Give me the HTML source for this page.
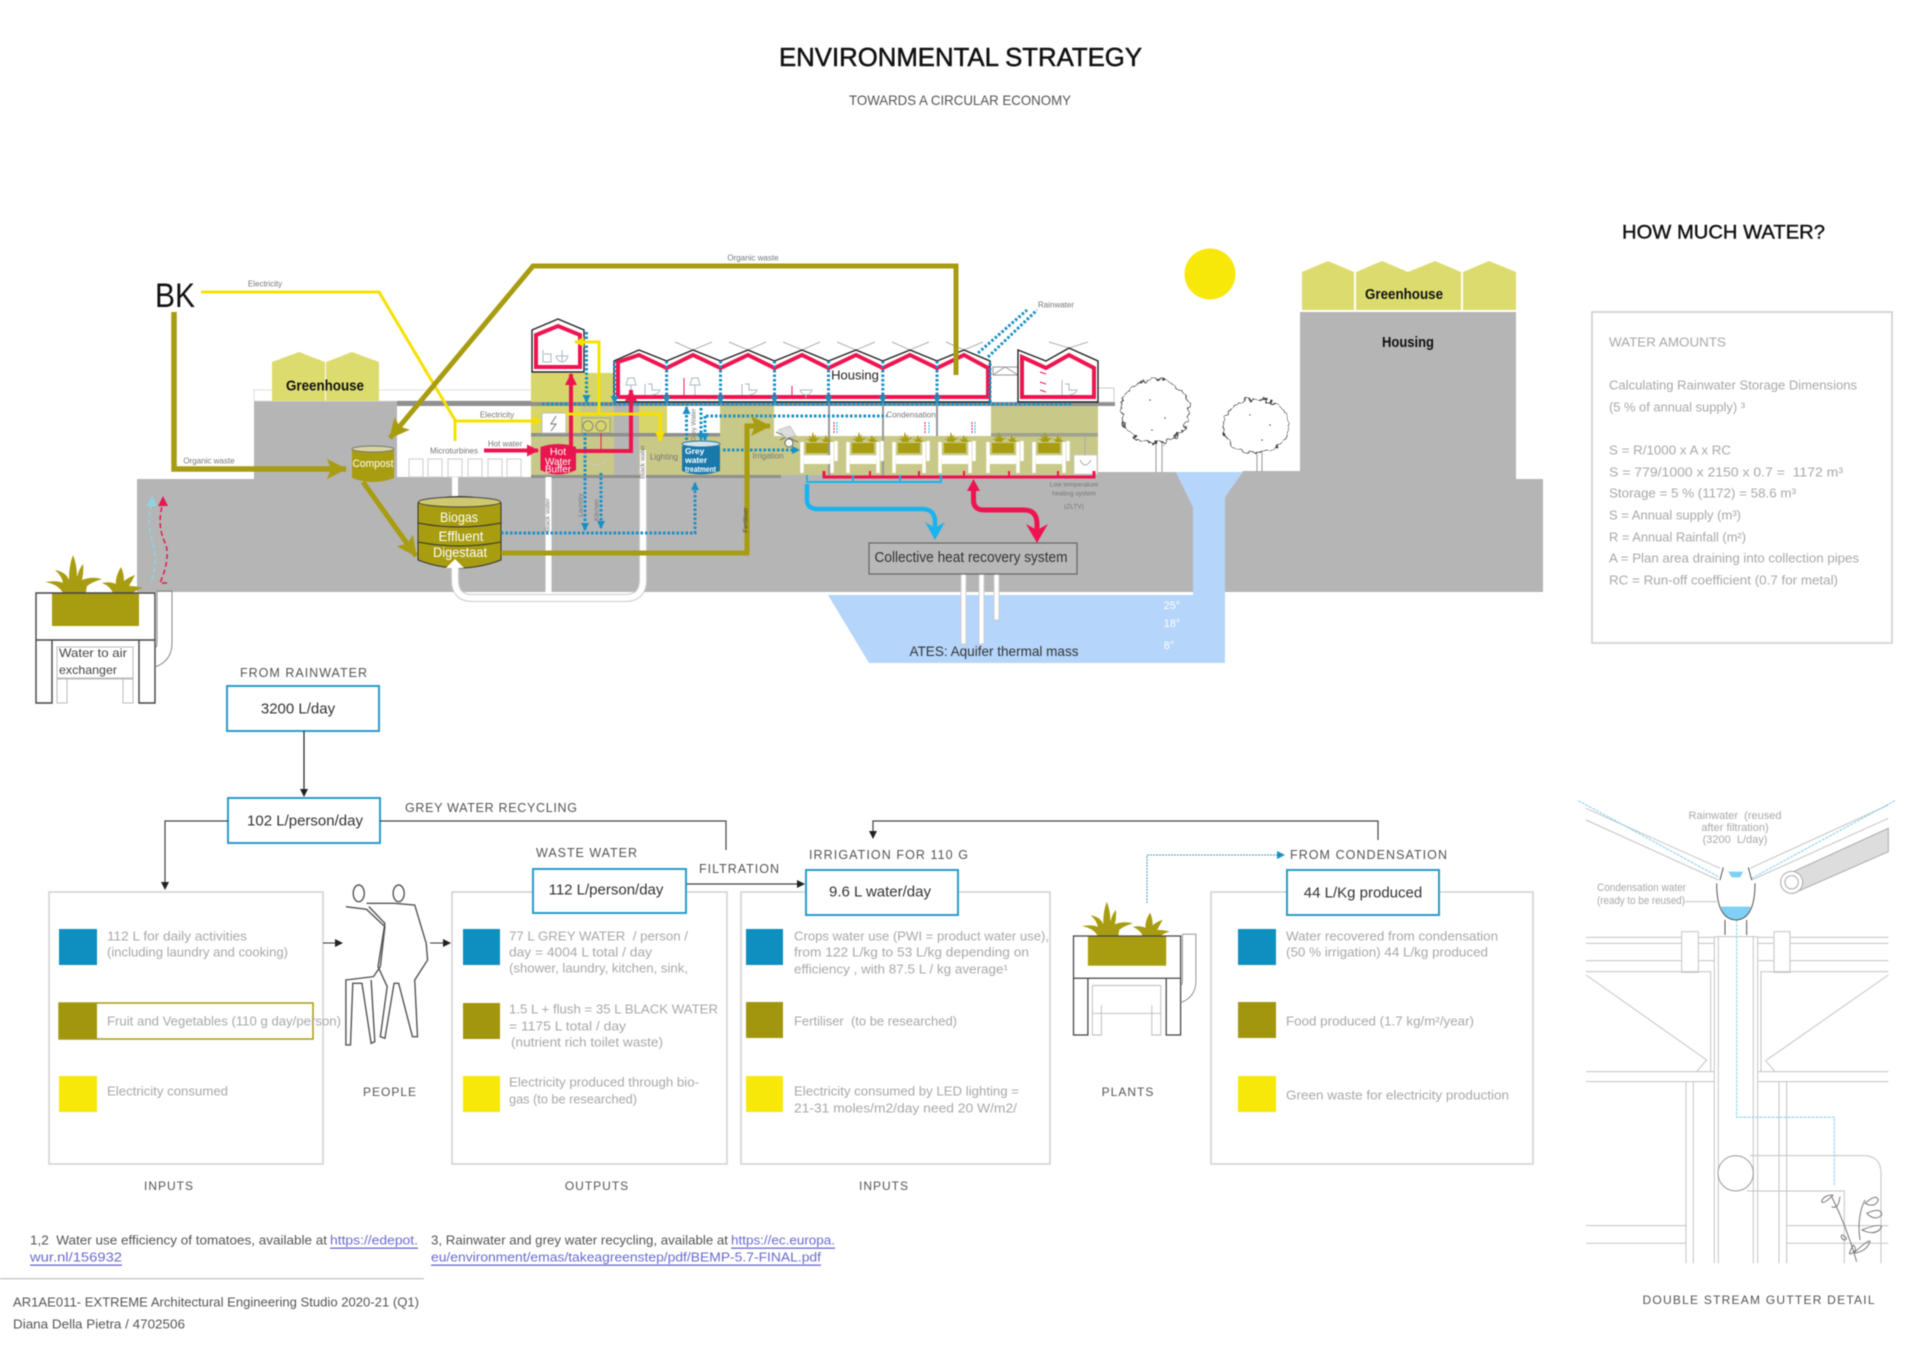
<!DOCTYPE html>
<html><head><meta charset="utf-8"><title>Environmental Strategy</title>
<style>
html,body{margin:0;padding:0;background:#fff}
svg{display:block;filter:blur(.5px)}
text{font-family:"Liberation Sans",sans-serif;dominant-baseline:central;white-space:pre}
.g{font-size:13px;fill:#a8a8a8}
.l{font-size:12.5px;fill:#555;letter-spacing:1px}
.v{font-size:15px;fill:#333}
.s{font-size:8px;fill:#777}
.w{fill:#fff;text-anchor:middle}
.f{font-size:13px;fill:#555}
.u{font-size:13px;fill:#6a6ad0;text-decoration:underline}
.d{fill:none;stroke:#1a8fc4;stroke-width:3;stroke-dasharray:2.5 2}
.thin{fill:none;stroke:#c4c4c4;stroke-width:1}
.ns{vector-effect:non-scaling-stroke}
</style></head><body>
<svg width="1920" height="1358" viewBox="0 0 1920 1358" xmlns="http://www.w3.org/2000/svg">
<defs>
<filter id="rough" x="-20%" y="-20%" width="140%" height="140%"><feTurbulence type="fractalNoise" baseFrequency=".16" numOctaves="2" seed="4" result="n"/><feDisplacementMap in="SourceGraphic" in2="n" scale="9" xChannelSelector="R" yChannelSelector="G"/></filter>
<marker id="ab" markerUnits="userSpaceOnUse" markerWidth="10" markerHeight="10" refX="7" refY="4" orient="auto"><path d="M0 0L8 4L0 8Z" fill="#1a8fc4"/></marker>
<marker id="ak" markerUnits="userSpaceOnUse" markerWidth="10" markerHeight="10" refX="7" refY="4" orient="auto"><path d="M0 0L8 4L0 8Z" fill="#222"/></marker>
<marker id="ay" markerUnits="userSpaceOnUse" markerWidth="12" markerHeight="12" refX="9" refY="5" orient="auto"><path d="M0 0L10 5L0 10Z" fill="#f7e000"/></marker>
<marker id="ar" markerUnits="userSpaceOnUse" markerWidth="14" markerHeight="14" refX="11" refY="6" orient="auto"><path d="M0 0L12 6L0 12Z" fill="#ef1450"/></marker>
<marker id="ao" markerUnits="userSpaceOnUse" markerWidth="24" markerHeight="24" refX="19" refY="10" orient="auto"><path d="M0 0L20 10L0 20L4 10Z" fill="#a89c10"/></marker>
<g id="leaf"><path fill="#a89c10" d="M27 0Q22-9 9-11Q22-13 27-10Q26-17 19-23Q30-21 33-13Q33-28 37-38Q41-28 41-16Q43-24 47-29Q48-22 46-13Q56-17 66-14Q56-11 51-7Q50-3 50 0ZM77 0Q74-7 66-10Q74-12 80-9Q79-16 85-26Q88-20 88-12Q93-16 99-18Q96-12 93-7Q100-7 107-5Q100-3 97 0Z"/></g>
<g id="pl">
<use href="#leaf"/>
<rect x="16" y="0" width="87" height="33" fill="#a89c10"/>
<path fill="none" stroke="#444" stroke-width="1.4" d="M0 0H119V47H0ZM0 47V110H16V47M103 47V110H119V47"/>
<path fill="none" stroke="#bbb" d="M21 55V110H31V77M87 77V110H97V55M21 55H97M21 86H97"/>
<path fill="none" stroke="#888" d="M121-2H136V50Q136 68 119 74M121-2V48Q121 55 119 55"/>
</g>
<g id="sm">
<g transform="translate(2,-1) scale(.27)"><use href="#leaf"/></g>
<rect x="5" y="0" width="22" height="10" fill="#a89c10"/>
<path fill="none" stroke="#fff" stroke-width="3.5" d="M1-1V30M31-1V30M1 14H31M35-2V18"/>
<path fill="#fff" d="M3 15H29V21H3Z"/>
</g>
</defs>
<rect width="1920" height="1358" fill="#fff"/>

<!-- Titles -->
<text x="779" y="57" font-size="26" fill="#111" stroke="#111" stroke-width=".5" textLength="363" lengthAdjust="spacingAndGlyphs">ENVIRONMENTAL STRATEGY</text>
<text x="849" y="100" font-size="14" fill="#555" textLength="222" lengthAdjust="spacingAndGlyphs">TOWARDS A CIRCULAR ECONOMY</text>
<text x="1622" y="233" font-size="19" fill="#111" stroke="#111" stroke-width=".4" textLength="203" lengthAdjust="spacingAndGlyphs">HOW MUCH WATER?</text>

<!-- Ground -->
<path fill="#b5b5b5" d="M137 479H254V401H397V475H1098V472H1176L1193 507V592H137Z"/>
<path fill="#b5b5b5" d="M1243 471H1300V312H1516V479H1543V592H1225V497Z"/>
<path fill="#b5d5fa" d="M1176 472H1243L1225 497V663H869L828 595H1193V507Z"/>
<text x="1172" y="606" font-size="11" fill="#fff" text-anchor="middle">25°</text>
<text x="1172" y="624" font-size="11" fill="#fff" text-anchor="middle">18°</text>
<text x="1169" y="646" font-size="11" fill="#fff" text-anchor="middle">8°</text>
<text x="994" y="651" font-size="14" fill="#333" text-anchor="middle" textLength="169" lengthAdjust="spacingAndGlyphs">ATES: Aquifer thermal mass</text>

<!-- left greenhouse -->
<rect x="254" y="390" width="279" height="11" fill="#fff" stroke="#ddd"/>
<path fill="#dcdc6e" d="M272 362L299 352L325 362V401H272ZM326 362L352 352L379 362V401H326Z"/>
<text x="325" y="386" font-size="15" fill="#111" font-weight="bold" text-anchor="middle" textLength="78" lengthAdjust="spacingAndGlyphs">Greenhouse</text>
<!-- right greenhouse -->
<path fill="#dcdc6e" d="M1302 272L1328 261L1354 272V310H1302ZM1356 272L1382 261L1408 272L1435 261L1461 272V310H1356ZM1463 272L1489 261L1516 272V310H1463Z"/>
<text x="1404" y="295" font-size="14.5" fill="#111" font-weight="bold" text-anchor="middle" textLength="78" lengthAdjust="spacingAndGlyphs">Greenhouse</text>
<text x="1408" y="343" font-size="14.5" fill="#111" font-weight="bold" text-anchor="middle" textLength="52" lengthAdjust="spacingAndGlyphs">Housing</text>
<ellipse cx="1210" cy="274" rx="25.5" ry="25.5" fill="#f7e80a"/>

<!-- Building interior -->
<rect x="397" y="406" width="134" height="71" fill="#fff"/>
<rect x="397" y="401" width="136" height="5" fill="#909090"/>
<rect x="531" y="373" width="83" height="30" fill="#d6d66b"/>
<rect x="531" y="406" width="83" height="69" fill="#c8c888"/>
<rect x="531" y="406" width="50" height="27" fill="#d6d66b"/>
<rect x="614" y="406" width="25" height="69" fill="#b5b5b5"/>
<rect x="639" y="406" width="28" height="30" fill="#d6d66b"/>
<rect x="667" y="406" width="53" height="30" fill="#fff"/>
<rect x="720" y="406" width="54" height="30" fill="#c8c888"/>
<rect x="639" y="436" width="459" height="39" fill="#c8c888"/>
<rect x="774" y="406" width="217" height="30" fill="#fff"/>
<rect x="991" y="406" width="107" height="30" fill="#c8c888"/>
<path stroke="#999" stroke-width="2" d="M829 406V476M883 406V476M937 406V436"/>
<rect x="531" y="402" width="584" height="4" fill="#909090"/>
<rect x="531" y="433" width="189" height="3.5" fill="#909090"/>
<rect x="991" y="433" width="107" height="3.5" fill="#a0a090"/>
<rect x="531" y="475" width="250" height="3" fill="#909090"/>
<rect x="1098" y="388" width="16" height="14" fill="#fff" stroke="#ccc"/>
<path stroke="#999" fill="none" d="M993 367H1018V375H993ZM993 375L1005 367L1018 375"/>

<!-- microturbine units -->
<g fill="#fff" stroke="#ccc"><rect x="409" y="459" width="14" height="18"/><rect x="428" y="459" width="14" height="18"/><rect x="448" y="459" width="14" height="18"/><rect x="468" y="459" width="14" height="18"/><rect x="488" y="459" width="14" height="18"/><rect x="507" y="459" width="14" height="18"/></g>

<!-- trusses above roofs -->
<path fill="none" stroke="#999" stroke-width=".8" d="M675 342L693 350L712 342M729 342L748 350L766 342M783 342L802 350L820 342M837 342L856 350L875 342M892 342L910 350L929 342M946 342L964 350L983 342M1049 342L1069 348L1088 342"/>

<!-- houses -->
<path fill="#fff" stroke="#222" stroke-width="1.4" d="M532 330L558 319L584 330V372H532Z"/>
<path fill="none" stroke="#ef1450" stroke-width="4" d="M536 335L558 326L580 335V367H536Z"/>
<path fill="#fff" stroke="#222" stroke-width="1.4" d="M614 361L639 350L666.6 361L693 350L720.5 361L748 350L774.5 361L802 350L828.5 361L856 350L882.8 361L910 350L937 361L964 350L990 361V402H614Z"/>
<path fill="none" stroke="#ef1450" stroke-width="4" d="M618 362L639 355L666.6 368L693 355L720.5 368L748 355L774.5 368L802 355L828.5 368L856 355L882.8 368L910 355L937 368L964 355L988 368V397H618Z"/>
<path fill="#fff" stroke="#222" stroke-width="1.4" d="M1018 350L1046 361L1069 348L1098 361V402H1018Z"/>
<path fill="none" stroke="#ef1450" stroke-width="4" d="M1022 357L1046 368L1069 355L1094 368V397H1022Z"/>
<text x="855" y="375" font-size="13" fill="#222" text-anchor="middle">Housing</text>

<!-- fixtures -->
<g fill="none" stroke="#a8b8c4" stroke-width="1">
<path d="M543 350V362M544 354H551V362H543M562 350V362M556 356H568Q566 362 562 362Q558 362 556 356"/>
<path d="M628 378H634L636 385H626ZM631 385V395M645 384V395M648 384H652V390H660Q658 395 650 395"/>
<path d="M692 378H698L700 385H690ZM695 385V395M742 384V395M745 384H749V390H757Q755 395 747 395"/>
<path d="M800 390H812Q810 395 806 395Q802 395 800 390M806 395V398M1062 380V395M1065 384H1069V390H1077Q1075 395 1067 395"/>
</g>
<path stroke="#ef1450" fill="none" d="M684 378V396M792 386V396M1040 372L1046 374M1040 382L1046 384M1040 390L1046 392"/>
<path fill="none" stroke="#ccc" d="M555 462Q561 470 566 462M562 445V455M584 460Q600 470 606 460"/>
<rect x="582" y="418" width="28" height="15" fill="#d6d66b" stroke="#888" stroke-width=".6"/>
<circle cx="588" cy="426" r="5" fill="none" stroke="#888"/><circle cx="601" cy="426" r="5" fill="none" stroke="#888"/>
<path stroke="#ef1450" d="M601 433V452" fill="none"/>
<rect x="542" y="413" width="24" height="20" fill="#fff" stroke="#bbb"/>
<path stroke="#777" fill="none" d="M556 416L551 424H556L551 431"/>

<!-- hot water buffer, compost, tanks -->
<path fill="#e8164e" d="M540.5 447Q558 441 576 447V470Q558 479 540.5 470Z"/>
<text class="w" x="558" y="452" font-size="10.5">Hot</text><text class="w" x="558" y="462" font-size="10.5" textLength="26" lengthAdjust="spacingAndGlyphs">Water</text><text class="w" x="558" y="470" font-size="10" textLength="26" lengthAdjust="spacingAndGlyphs">Buffer</text>
<path fill="#1a78aa" d="M682 446Q701 440 720 446V471Q701 478 682 471Z"/>
<ellipse cx="701" cy="444" rx="19" ry="3" fill="#d6e4ea" stroke="#1a78aa"/>
<g font-size="8.5" fill="#fff"><text x="685" y="451" font-weight="bold">Grey</text><text x="685" y="460" font-weight="bold">water</text><text x="685" y="469" font-weight="bold" textLength="31" lengthAdjust="spacingAndGlyphs">treatment</text></g>

<path fill="#a89c10" d="M352 449Q373 442 394 449V478Q373 486 352 478Z"/>
<ellipse cx="373" cy="449" rx="21" ry="3" fill="#d8d4a0" stroke="#777"/>
<text class="w" x="373" y="464" font-size="11" textLength="41" lengthAdjust="spacingAndGlyphs">Compost</text>

<rect x="452" y="477" width="6" height="26" fill="#fff"/>
<path fill="#a89c10" stroke="#333" stroke-width="1" d="M418 503Q459 490 501 503V560Q459 576 418 560Z"/>
<ellipse cx="459.5" cy="502" rx="41" ry="5" fill="#cfc870" stroke="#444"/>
<path fill="none" stroke="#333" d="M418 523Q459 531 501 523M418 542Q459 550 501 542"/>
<text class="w" x="459" y="517" font-size="14" textLength="38" lengthAdjust="spacingAndGlyphs">Biogas</text><text class="w" x="461" y="536" font-size="14" textLength="45" lengthAdjust="spacingAndGlyphs">Effluent</text><text class="w" x="460" y="552" font-size="14" textLength="54" lengthAdjust="spacingAndGlyphs">Digestaat</text>

<!-- white pipes -->
<rect x="545.5" y="477" width="6" height="116" fill="#fff"/>
<path fill="none" stroke="#ccc" stroke-width="8" d="M643 478V580Q643 598 625 598H472Q455 598 455 580V566"/>
<path fill="none" stroke="#fff" stroke-width="6" d="M643 450V580Q643 598 625 598H472Q455 598 455 580V566"/>
<path fill="#fff" d="M446 568L455 559L464 568Z"/>
<g fill="#fff" stroke="#ccc"><rect x="961" y="574" width="5" height="70"/><rect x="979" y="574" width="5" height="70"/><rect x="994" y="574" width="5" height="46"/></g>

<!-- Collective -->
<rect x="869" y="543" width="208" height="31" fill="#b8b8b8" stroke="#666" stroke-width="1.2"/>
<text x="971" y="558" font-size="14.5" fill="#333" text-anchor="middle" textLength="193" lengthAdjust="spacingAndGlyphs">Collective heat recovery system</text>

<!-- planters section -->
<use href="#sm" x="801" y="443"/><use href="#sm" x="847" y="443"/><use href="#sm" x="893" y="443"/><use href="#sm" x="939" y="443"/><use href="#sm" x="987" y="443"/><use href="#sm" x="1033" y="443"/>
<rect x="1074" y="455" width="23" height="19" fill="#fff" stroke="#ccc"/>
<path fill="none" stroke="#aaa" d="M1080 460Q1085 470 1091 460Q1085 470 1080 460M1085 436V455"/>
<path fill="none" stroke="#777" d="M776 432L798 442M780 440L792 434"/>
<circle cx="789" cy="443" r="4" fill="#fff" stroke="#666"/>
<path fill="#ddd" stroke="#999" stroke-width=".5" d="M778 430L790 426L796 436L786 438Z"/>

<!-- heating lines -->
<path fill="none" stroke="#ef1450" stroke-width="3" d="M824 471V477H1094V471"/>
<path fill="none" stroke="#ef1450" stroke-width="2" d="M870 471V477M919 471V477M964 471V477M1009 471V477M1058 471V477"/>
<path fill="none" stroke="#18b4f0" stroke-width="2" d="M807 475V482H941V475M853 475V482M900 475V482"/>
<g fill="none" stroke-width="1" stroke-dasharray="2 1"><path stroke="#18b4f0" d="M837 422V433M929 422V433M975 422V433"/><path stroke="#ef1450" d="M834 422V433M925 422V433M972 422V433"/></g>

<!-- big arrows -->
<path fill="none" stroke="#18b4f0" stroke-width="4.5" d="M807 484V500Q807 509 818 509H922Q935 509 935 522V530"/>
<path fill="#18b4f0" d="M925 522L935 540L945 522L935 528Z"/>
<path fill="none" stroke="#ef1450" stroke-width="5" d="M973.5 490V500Q973.5 510 984 510H1024Q1037 510 1037 524V532"/>
<path fill="#ef1450" d="M1026 524L1037 543L1048 524L1037 530Z"/>
<path fill="#ef1450" d="M967 491L973.5 479L980 491Z"/>

<!-- slab dots & rain -->
<path class="d" d="M542 404H1071"/>
<path class="d" d="M614.6 361V403" marker-end="url(#ab)"/>
<path class="d" d="M666.6 361V403" marker-end="url(#ab)"/>
<path class="d" d="M720.5 361V403" marker-end="url(#ab)"/>
<path class="d" d="M774.5 361V403" marker-end="url(#ab)"/>
<path class="d" d="M828.5 361V403" marker-end="url(#ab)"/>
<path class="d" d="M882.8 361V403" marker-end="url(#ab)"/>
<path class="d" d="M937 361V403" marker-end="url(#ab)"/>
<path class="d" d="M586.5 332V402" marker-end="url(#ab)"/>
<path class="d" d="M585 433V530" marker-end="url(#ab)"/>
<path class="d" d="M601 473V528" marker-end="url(#ab)"/>
<path class="d" d="M501 533H695V483" marker-end="url(#ab)"/>
<path class="d" d="M686.5 440V407" marker-end="url(#ab)"/>
<path class="d" d="M701 408V440" marker-end="url(#ab)"/>
<path class="d" d="M705 416V440" marker-end="url(#ab)"/>
<path class="d" d="M723 450H799" marker-end="url(#ab)"/>
<path class="d" d="M706 416H887"/>
<path class="d" d="M990 402V361M978 353L1027 310M988 357L1037 310"/>

<!-- red lines -->
<path fill="none" stroke="#ef1450" stroke-width="4" d="M484 450.5H538" marker-end="url(#ar)"/>
<path fill="none" stroke="#ef1450" stroke-width="4" d="M571 447V374" marker-end="url(#ar)"/>
<path fill="none" stroke="#ef1450" stroke-width="4" d="M575 451H631V390" marker-end="url(#ar)"/>

<!-- yellow lines -->
<path fill="none" stroke="#f7e000" stroke-width="3" d="M201 292H379L455 420V441M455 421H539" />
<path fill="#f7e000" d="M533 416L542 421L533 426Z"/>
<path fill="none" stroke="#f7e000" stroke-width="3" d="M566 414H660V441" marker-end="url(#ay)"/>
<path fill="none" stroke="#f7e000" stroke-width="3" d="M599 414V342H575" marker-end="url(#ay)"/>

<!-- olive lines -->
<path fill="none" stroke="#a89c10" stroke-width="5.5" d="M174 312V469H346" marker-end="url(#ao)"/>
<path fill="none" stroke="#a89c10" stroke-width="5" d="M956 375V266H533L390 438" marker-end="url(#ao)"/>
<path fill="none" stroke="#a89c10" stroke-width="5" d="M363 482L416 556" marker-end="url(#ao)"/>
<path fill="none" stroke="#a89c10" stroke-width="5" d="M501 553H747V426H770" marker-end="url(#ao)"/>

<text x="155" y="296" font-size="34" fill="#111" textLength="40" lengthAdjust="spacingAndGlyphs">BK</text>

<!-- small labels -->
<text class="s" x="265" y="284" text-anchor="middle">Electricity</text>
<text class="s" x="753" y="258" text-anchor="middle">Organic waste</text>
<text class="s" x="209" y="461" text-anchor="middle">Organic waste</text>
<text class="s" x="497" y="415" text-anchor="middle">Electricity</text>
<text class="s" x="505" y="444" text-anchor="middle">Hot water</text>
<text class="s" x="454" y="451" text-anchor="middle">Microturbines</text>
<text class="s" x="664" y="457" text-anchor="middle">Lighting</text>
<text class="s" x="768" y="456" text-anchor="middle">Irrigation</text>
<text class="s" x="911" y="415" text-anchor="middle">Condensation</text>
<text class="s" x="1056" y="305" text-anchor="middle">Rainwater</text>
<text class="s" x="1074" y="485" text-anchor="middle" style="font-size:6.5px">Low temperature</text>
<text class="s" x="1074" y="494" text-anchor="middle" style="font-size:6.5px">heating system</text>
<text class="s" x="1074" y="507" text-anchor="middle" style="font-size:6.5px">(ZLTV)</text>
<text class="s" transform="translate(548,515) rotate(-90)" text-anchor="middle" style="font-size:6.5px">Black water</text>
<text class="s" transform="translate(643,462) rotate(-90)" text-anchor="middle" style="font-size:6.5px">Black water</text>
<text class="s" transform="translate(581,505) rotate(-90)" text-anchor="middle" style="font-size:6.5px">Laundry</text>
<text class="s" transform="translate(597,510) rotate(-90)" text-anchor="middle" style="font-size:6.5px">Kitchen</text>
<text class="s" transform="translate(694,425) rotate(-90)" text-anchor="middle" style="font-size:6.5px">Grey Water</text>
<text class="s" transform="translate(746,520) rotate(-90)" text-anchor="middle" style="font-size:6.5px;fill:#444">Fertiliser</text>

<!-- dashed air arrows -->
<path fill="none" stroke="#8fd4e4" stroke-width="1.5" stroke-dasharray="5 3" d="M152 580Q158 560 152 540Q146 520 152 503"/>
<path fill="#8fd4e4" d="M147 506L152 496L157 506Z"/>
<path fill="none" stroke="#e8164e" stroke-width="1.5" stroke-dasharray="5 3" d="M167 583H160Q170 560 166 545Q156 525 163 503"/>
<path fill="#e8164e" d="M158 506L163 496L168 506Z"/>

<!-- trees -->
<path fill="none" stroke="#999" d="M1156 440V472M1162 440V472M1257 450V472M1262 450V472"/>
<g fill="#fff" stroke="#333" stroke-width=".9" filter="url(#rough)">
<ellipse cx="1155" cy="411" rx="34" ry="32"/>
<ellipse cx="1256" cy="426" rx="33" ry="27"/>
</g>
<g fill="#555"><circle cx="1150" cy="400" r=".8"/><circle cx="1165" cy="418" r=".8"/><circle cx="1152" cy="430" r=".8"/><circle cx="1270" cy="425" r=".8"/><circle cx="1262" cy="440" r=".8"/><circle cx="1250" cy="415" r=".7"/></g>

<!-- Info box -->
<rect x="1592" y="312" width="300" height="331" fill="#fff" stroke="#ccc" stroke-width="1.5"/>
<text class="g" x="1609" y="342" textLength="117" lengthAdjust="spacingAndGlyphs">WATER AMOUNTS</text>
<text class="g" x="1609" y="385" textLength="248" lengthAdjust="spacingAndGlyphs">Calculating Rainwater Storage Dimensions</text>
<text class="g" x="1609" y="407" textLength="136" lengthAdjust="spacingAndGlyphs">(5 % of annual supply) ³</text>
<text class="g" x="1609" y="450" textLength="122" lengthAdjust="spacingAndGlyphs">S = R/1000 x A x RC</text>
<text class="g" x="1609" y="472" textLength="234" lengthAdjust="spacingAndGlyphs">S = 779/1000 x 2150 x 0.7 =  1172 m³</text>
<text class="g" x="1609" y="493" textLength="187" lengthAdjust="spacingAndGlyphs">Storage = 5 % (1172) = 58.6 m³</text>
<text class="g" x="1609" y="515" textLength="132" lengthAdjust="spacingAndGlyphs">S = Annual supply (m³)</text>
<text class="g" x="1609" y="537" textLength="137" lengthAdjust="spacingAndGlyphs">R = Annual Rainfall (m²)</text>
<text class="g" x="1609" y="558" textLength="250" lengthAdjust="spacingAndGlyphs">A = Plan area draining into collection pipes</text>
<text class="g" x="1609" y="580" textLength="229" lengthAdjust="spacingAndGlyphs">RC = Run-off coefficient (0.7 for metal)</text>

<!-- Left planter -->
<use href="#pl" x="36" y="593"/>
<rect x="57" y="647" width="76" height="31" fill="#fff" stroke="#bbb"/>
<text x="59" y="653" font-size="12" fill="#444" textLength="68" lengthAdjust="spacingAndGlyphs">Water to air</text>
<text x="59" y="670" font-size="12" fill="#444" textLength="58" lengthAdjust="spacingAndGlyphs">exchanger</text>

<!-- Flow boxes -->
<g fill="#fff" stroke="#2a9cc8" stroke-width="2">
<rect x="227" y="686" width="152" height="45"/>
<rect x="228" y="798" width="152" height="45"/>
</g>
<path fill="none" stroke="#222" stroke-width="1.2" d="M304 731V796" marker-end="url(#ak)"/>
<path fill="none" stroke="#444" stroke-width="1.2" d="M228 821H165V889" marker-end="url(#ak)"/>
<path fill="none" stroke="#444" stroke-width="1.2" d="M380 821H726V850"/>
<path fill="none" stroke="#444" stroke-width="1.2" d="M686 884H804" marker-end="url(#ak)"/>
<path fill="none" stroke="#444" stroke-width="1.2" d="M1378 840V821H873V838" marker-end="url(#ak)"/>
<path fill="none" stroke="#4a9cc0" stroke-width="1" stroke-dasharray="2 1" d="M1147 903V855H1284" marker-end="url(#ab)"/>
<text class="l" x="240" y="673" textLength="128" lengthAdjust="spacing">FROM RAINWATER</text>
<text class="v" x="298" y="709" text-anchor="middle">3200 L/day</text>
<text class="v" x="305" y="821" text-anchor="middle">102 L/person/day</text>
<text class="l" x="405" y="808" textLength="173" lengthAdjust="spacing">GREY WATER RECYCLING</text>
<text class="l" x="536" y="853" textLength="102" lengthAdjust="spacing">WASTE WATER</text>
<text class="l" x="699" y="869" textLength="81" lengthAdjust="spacing">FILTRATION</text>
<text class="l" x="809" y="855" textLength="160" lengthAdjust="spacing">IRRIGATION FOR 110 G</text>
<text class="l" x="1290" y="855" textLength="158" lengthAdjust="spacing">FROM CONDENSATION</text>

<!-- Panels -->
<g fill="#fff" stroke="#d0d0d0" stroke-width="1.5">
<rect x="49" y="892" width="274" height="272"/>
<rect x="452" y="892" width="275" height="272"/>
<rect x="741" y="892" width="309" height="272"/>
<rect x="1211" y="892" width="322" height="272"/>
</g>
<g fill="#fff" stroke="#2a9cc8" stroke-width="2">
<rect x="533" y="869" width="153" height="44"/>
<rect x="806" y="870" width="152" height="45"/>
<rect x="1287" y="870" width="152" height="45"/>
</g>
<text class="v" x="606" y="890" text-anchor="middle">112 L/person/day</text>
<text class="v" x="880" y="892" text-anchor="middle">9.6 L water/day</text>
<text class="v" x="1363" y="893" text-anchor="middle">44 L/Kg produced</text>

<rect x="59" y="1003" width="254" height="36" fill="#fff" stroke="#a89c10" stroke-width="1.5"/>
<g fill="#0e8fc0"><rect x="59" y="929" width="38" height="36"/><rect x="463" y="929" width="37" height="36"/><rect x="746" y="929" width="37" height="36"/><rect x="1238" y="929" width="38" height="36"/></g>
<g fill="#a3960f"><rect x="59" y="1003" width="38" height="36"/><rect x="463" y="1003" width="37" height="36"/><rect x="746" y="1002" width="37" height="36"/><rect x="1238" y="1002" width="38" height="36"/></g>
<g fill="#f7e80a"><rect x="59" y="1076" width="38" height="36"/><rect x="463" y="1076" width="37" height="36"/><rect x="746" y="1076" width="37" height="36"/><rect x="1238" y="1076" width="38" height="36"/></g>

<text class="g" x="107" y="936" textLength="140" lengthAdjust="spacingAndGlyphs">112 L for daily activities</text>
<text class="g" x="107" y="952" textLength="181" lengthAdjust="spacingAndGlyphs">(including laundry and cooking)</text>
<text class="g" x="107" y="1021" textLength="234" lengthAdjust="spacingAndGlyphs">Fruit and Vegetables (110 g day/person)</text>
<text class="g" x="107" y="1091" textLength="121" lengthAdjust="spacingAndGlyphs">Electricity consumed</text>

<text class="g" x="509" y="936" textLength="179" lengthAdjust="spacingAndGlyphs">77 L GREY WATER  / person /</text>
<text class="g" x="509" y="952" textLength="143" lengthAdjust="spacingAndGlyphs">day = 4004 L total / day</text>
<text class="g" x="509" y="968" textLength="179" lengthAdjust="spacingAndGlyphs">(shower, laundry, kitchen, sink,</text>
<text class="g" x="509" y="1009" textLength="209" lengthAdjust="spacingAndGlyphs">1.5 L + flush = 35 L BLACK WATER</text>
<text class="g" x="509" y="1026" textLength="117" lengthAdjust="spacingAndGlyphs">= 1175 L total / day</text>
<text class="g" x="511" y="1042" textLength="152" lengthAdjust="spacingAndGlyphs">(nutrient rich toilet waste)</text>
<text class="g" x="509" y="1082" textLength="190" lengthAdjust="spacingAndGlyphs">Electricity produced through bio-</text>
<text class="g" x="509" y="1099" textLength="128" lengthAdjust="spacingAndGlyphs">gas (to be researched)</text>

<text class="g" x="794" y="936" textLength="255" lengthAdjust="spacingAndGlyphs">Crops water use (PWI = product water use),</text>
<text class="g" x="794" y="952" textLength="235" lengthAdjust="spacingAndGlyphs">from 122 L/kg to 53 L/kg depending on</text>
<text class="g" x="794" y="969" textLength="214" lengthAdjust="spacingAndGlyphs">efficiency , with 87.5 L / kg average¹</text>
<text class="g" x="794" y="1021" textLength="163" lengthAdjust="spacingAndGlyphs">Fertiliser  (to be researched)</text>
<text class="g" x="794" y="1091" textLength="225" lengthAdjust="spacingAndGlyphs">Electricity consumed by LED lighting =</text>
<text class="g" x="794" y="1108" textLength="223" lengthAdjust="spacingAndGlyphs">21-31 moles/m2/day need 20 W/m2/</text>

<text class="g" x="1286" y="936" textLength="212" lengthAdjust="spacingAndGlyphs">Water recovered from condensation</text>
<text class="g" x="1286" y="952" textLength="202" lengthAdjust="spacingAndGlyphs">(50 % irrigation) 44 L/kg produced</text>
<text class="g" x="1286" y="1021" textLength="188" lengthAdjust="spacingAndGlyphs">Food produced (1.7 kg/m²/year)</text>
<text class="g" x="1286" y="1095" textLength="223" lengthAdjust="spacingAndGlyphs">Green waste for electricity production</text>

<path fill="none" stroke="#333" d="M323 943H342" marker-end="url(#ak)"/>
<path fill="none" stroke="#333" d="M430 943H450" marker-end="url(#ak)"/>

<!-- People -->
<g transform="translate(20,860) scale(.459,.3333)" fill="none" stroke="#555" stroke-width="1.4">
<ellipse class="ns" cx="738" cy="100" rx="12" ry="25"/>
<ellipse class="ns" cx="825" cy="100" rx="12" ry="25"/>
<path class="ns" d="M710 140L755 148L795 200L785 320L770 350L710 360V555H720L725 370H745L765 550L773 545L765 360"/>
<path class="ns" d="M755 130H815L860 135L885 250L888 300L860 360L866 530L855 530L825 370H815L795 535L785 530L800 380L780 320L795 190L760 140"/>
</g>

<use href="#pl" transform="translate(1073.5,936) scale(.9)"/>

<text class="l" x="390" y="1092" text-anchor="middle" style="font-size:12px">PEOPLE</text>
<text class="l" x="169" y="1186" text-anchor="middle" style="font-size:12px">INPUTS</text>
<text class="l" x="597" y="1186" text-anchor="middle" style="font-size:12px">OUTPUTS</text>
<text class="l" x="1128" y="1092" text-anchor="middle" style="font-size:12px">PLANTS</text>
<text class="l" x="884" y="1186" text-anchor="middle" style="font-size:12px">INPUTS</text>
<text class="l" x="1759" y="1300" text-anchor="middle" style="font-size:12px" textLength="233" lengthAdjust="spacing">DOUBLE STREAM GUTTER DETAIL</text>

<!-- Gutter detail -->
<g transform="translate(1560,780) scale(.3333)">
<path class="thin ns" d="M78 85L480 265M78 120L475 300M985 75L570 265M985 115L575 300"/>
<path class="thin ns" style="stroke:#7fd0ec" stroke-dasharray="3 1" d="M55 62L475 290M1005 62L575 295M530 420V1012H823V1215"/>
<path fill="#ddd" stroke="#aaa" class="ns" d="M700 275L985 145V215L700 340Z"/>
<circle cx="695" cy="307" r="33" fill="#fff" stroke="#aaa" class="ns"/><circle cx="695" cy="307" r="20" fill="#fff" stroke="#aaa" class="ns"/>
<path d="M483 380H572Q565 418 528 420Q492 418 483 380Z" fill="#7fd0f4"/>
<path d="M505 275H550L540 292H515Z" fill="#7fd0f4"/>
<path class="thin ns" style="stroke:#555" d="M470 310Q470 418 528 420Q585 418 585 310M495 420V465M560 420V465M490 262L480 300M565 262L575 300"/>
<path class="thin ns" d="M375 365H480M463 470H593M463 470V1450M475 470V1450M580 470V1450M593 470V1450"/>
<path class="thin ns" d="M78 472H365M415 472H463M78 490H365M415 490H463M78 542H365M415 542H463M593 472H640M690 472H985M593 490H640M690 490H985M593 542H640M690 542H985"/>
<rect x="365" y="455" width="50" height="122" fill="#fff" class="thin ns"/><rect x="642" y="455" width="48" height="122" fill="#fff" class="thin ns"/>
<path class="thin ns" d="M78 575H452V875M985 575H603V875M78 585L440 840M985 585L620 840M78 875H463M593 875H985M78 905H463M593 905H985M410 875L440 840M645 875L615 840"/>
<path class="thin ns" d="M378 905V1450M400 905V1450M657 905V1450M680 905V1450M78 1337H378M78 1390H378M680 1337H985M680 1390H985"/>
<circle cx="527" cy="1180" r="53" fill="#fff" stroke="#999" class="ns"/>
<path class="thin ns" d="M570 1127H910Q963 1127 963 1180V1450M560 1233H853V1450"/>
<path fill="none" stroke="#777" class="ns" d="M890 1445Q860 1340 815 1250M820 1245Q790 1275 785 1265Q790 1245 820 1245M840 1250Q835 1290 815 1280M900 1380Q890 1310 915 1260M915 1270Q950 1240 955 1260Q945 1285 915 1270M920 1300Q965 1280 965 1305Q945 1325 920 1300M905 1350Q960 1330 965 1340Q950 1370 905 1350M880 1420Q930 1375 930 1385Q920 1415 880 1420M880 1395Q860 1430 875 1420Q895 1410 880 1395M860 1375Q840 1355 845 1375Q855 1385 860 1375"/>
</g>
<g font-size="11" fill="#a8a8a8" text-anchor="middle"><text x="1735" y="816">Rainwater  (reused</text><text x="1735" y="828">after filtration)</text><text x="1735" y="840">(3200  L/day)</text></g>
<text x="1597" y="888" font-size="11" fill="#a8a8a8" textLength="89" lengthAdjust="spacingAndGlyphs">Condensation water</text>
<text x="1597" y="901" font-size="11" fill="#a8a8a8" textLength="88" lengthAdjust="spacingAndGlyphs">(ready to be reused)</text>

<!-- Footer -->
<text class="f" x="30" y="1240" textLength="297" lengthAdjust="spacingAndGlyphs">1,2  Water use efficiency of tomatoes, available at</text>
<text class="u" x="330" y="1240" textLength="88" lengthAdjust="spacingAndGlyphs">https://edepot.</text>
<text class="u" x="30" y="1257" textLength="92" lengthAdjust="spacingAndGlyphs">wur.nl/156932</text>
<text class="f" x="431" y="1240" textLength="297" lengthAdjust="spacingAndGlyphs">3, Rainwater and grey water recycling, available at</text>
<text class="u" x="731" y="1240" textLength="104" lengthAdjust="spacingAndGlyphs">https://ec.europa.</text>
<text class="u" x="431" y="1257" textLength="390" lengthAdjust="spacingAndGlyphs">eu/environment/emas/takeagreenstep/pdf/BEMP-5.7-FINAL.pdf</text>
<rect x="0" y="1278" width="424" height="1.5" fill="#ccc"/>
<text class="f" x="13" y="1302" textLength="406" lengthAdjust="spacingAndGlyphs">AR1AE011- EXTREME Architectural Engineering Studio 2020-21 (Q1)</text>
<text class="f" x="13" y="1324" textLength="172" lengthAdjust="spacingAndGlyphs">Diana Della Pietra / 4702506</text>
</svg>
</body></html>
